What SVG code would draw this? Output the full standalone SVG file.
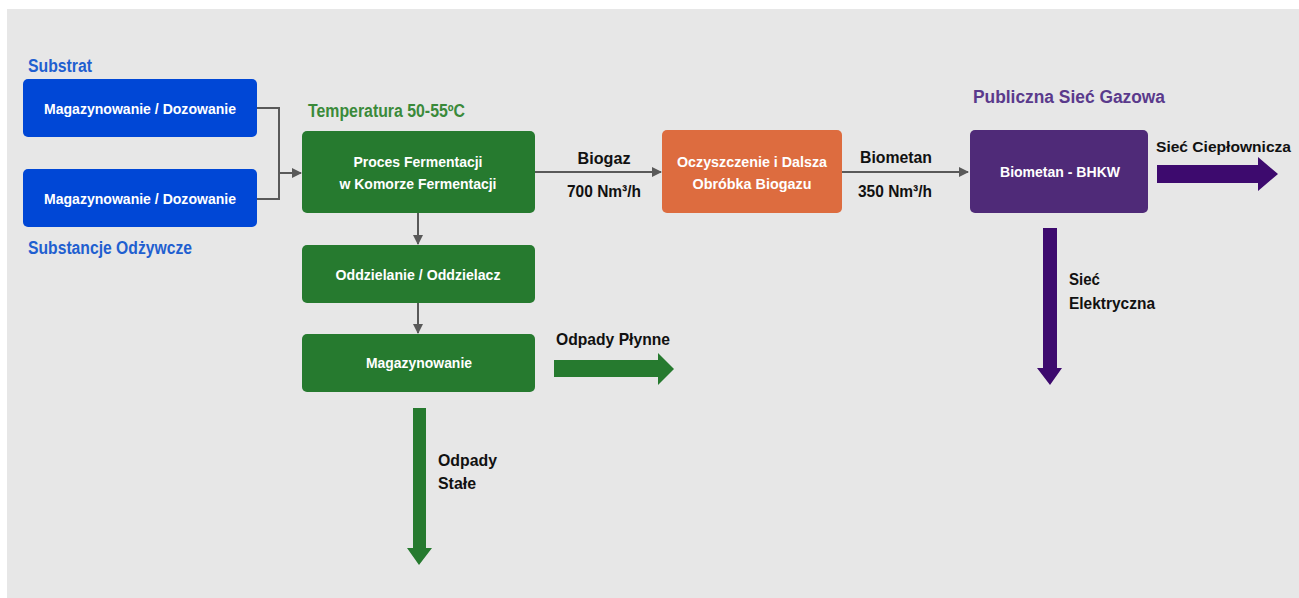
<svg xmlns="http://www.w3.org/2000/svg" width="1299" height="598" viewBox="0 0 1299 598">
<defs>
<style>
text{font-family:"Liberation Sans",Arial,sans-serif;font-weight:bold}
.w{fill:#fff;font-size:15px;text-anchor:middle}
.k{fill:#111;font-size:17px}
.kc{fill:#111;font-size:17px;text-anchor:middle}
.t{font-size:18px}
.conn{fill:none;stroke:#595959;stroke-width:2}
</style>
<marker id="ah" viewBox="0 0 10 10" refX="9" refY="5" markerWidth="5" markerHeight="5" orient="auto" markerUnits="strokeWidth">
<path d="M0,0 L10,5 L0,10 z" fill="#595959"/>
</marker>
</defs>
<rect x="0" y="0" width="1299" height="598" fill="#fff"/>
<rect x="7" y="9" width="1292" height="589" fill="#e7e7e7"/>

<g id="connectors">
<path class="conn" d="M257,108 H279 V199 H257"/>
<path class="conn" d="M279,173 H301" marker-end="url(#ah)"/>
<path class="conn" d="M535,172 H661" marker-end="url(#ah)"/>
<path class="conn" d="M842,172 H968" marker-end="url(#ah)"/>
<path class="conn" d="M418,213 V244" marker-end="url(#ah)"/>
<path class="conn" d="M418,303 V333" marker-end="url(#ah)"/>
<polygon fill="#3d0a6e" points="1157,165 1258,165 1258,157 1278,174 1258,191 1258,183 1157,183"/>
<polygon fill="#3d0a6e" points="1043,228 1057,228 1057,368 1062,368 1050,385 1037,368 1043,368"/>
<polygon fill="#267a2f" points="554,360 658,360 658,353 674,369 658,385 658,377 554,377"/>
<polygon fill="#267a2f" points="413,408 426,408 426,548 432,548 419,565 407,548 413,548"/>
</g>

<g id="label-substrat"><text class="t" x="28" y="72" fill="#1f5fd0" textLength="64" lengthAdjust="spacingAndGlyphs">Substrat</text></g>
<g id="label-substancje"><text class="t" x="28" y="254" fill="#1f5fd0" textLength="164" lengthAdjust="spacingAndGlyphs">Substancje Odżywcze</text></g>

<g id="node-dozowanie1">
<rect x="23" y="79" width="234" height="58" rx="5" fill="#0047d6"/>
<text class="w" x="140" y="114" textLength="192" lengthAdjust="spacingAndGlyphs">Magazynowanie / Dozowanie</text>
</g>
<g id="node-dozowanie2">
<rect x="23" y="169" width="234" height="58" rx="5" fill="#0047d6"/>
<text class="w" x="140" y="204" textLength="192" lengthAdjust="spacingAndGlyphs">Magazynowanie / Dozowanie</text>
</g>

<g id="label-temperatura"><text class="t" x="308" y="117" fill="#3a8a3a" textLength="157" lengthAdjust="spacingAndGlyphs">Temperatura 50-55ºC</text></g>

<g id="node-fermentacja">
<rect x="302" y="131" width="233" height="82" rx="5" fill="#267a2f"/>
<text class="w" x="418" y="167" textLength="129" lengthAdjust="spacingAndGlyphs">Proces Fermentacji</text>
<text class="w" x="418" y="189" textLength="157" lengthAdjust="spacingAndGlyphs">w Komorze Fermentacji</text>
</g>

<g id="label-biogaz">
<text class="kc" x="604" y="164" textLength="53" lengthAdjust="spacingAndGlyphs">Biogaz</text>
<text class="kc" x="604" y="197" textLength="74" lengthAdjust="spacingAndGlyphs">700 Nm³/h</text>
</g>

<g id="node-oczyszczenie">
<rect x="662" y="130" width="180" height="83" rx="5" fill="#dd6c3f"/>
<text class="w" x="752" y="167" textLength="150" lengthAdjust="spacingAndGlyphs">Oczyszczenie i Dalsza</text>
<text class="w" x="752" y="189" textLength="119" lengthAdjust="spacingAndGlyphs">Obróbka Biogazu</text>
</g>

<g id="label-biometan">
<text class="kc" x="896" y="163" textLength="72" lengthAdjust="spacingAndGlyphs">Biometan</text>
<text class="kc" x="895" y="197" textLength="74" lengthAdjust="spacingAndGlyphs">350 Nm³/h</text>
</g>

<g id="label-publiczna"><text class="t" x="973" y="103" fill="#5a3a8c" textLength="192" lengthAdjust="spacingAndGlyphs">Publiczna Sieć Gazowa</text></g>

<g id="node-bhkw">
<rect x="970" y="130" width="178" height="83" rx="5" fill="#4f2a78"/>
<text class="w" x="1060" y="177" textLength="120" lengthAdjust="spacingAndGlyphs">Biometan - BHKW</text>
</g>

<g id="label-cieplownicza"><text class="k" x="1156" y="152" font-size="15.5" style="font-size:15.5px" textLength="135" lengthAdjust="spacingAndGlyphs">Sieć Ciepłownicza</text></g>
<g id="label-elektryczna">
<text class="k" x="1069" y="285" textLength="31" lengthAdjust="spacingAndGlyphs">Sieć</text>
<text class="k" x="1069" y="309" textLength="86" lengthAdjust="spacingAndGlyphs">Elektryczna</text>
</g>

<g id="node-oddzielanie">
<rect x="302" y="245" width="233" height="58" rx="5" fill="#267a2f"/>
<text class="w" x="418" y="280" textLength="165" lengthAdjust="spacingAndGlyphs">Oddzielanie / Oddzielacz</text>
</g>

<g id="node-magazynowanie">
<rect x="302" y="334" width="233" height="58" rx="5" fill="#267a2f"/>
<text class="w" x="419" y="368" textLength="106" lengthAdjust="spacingAndGlyphs">Magazynowanie</text>
</g>

<g id="label-plynne"><text class="k" x="556" y="345" textLength="114" lengthAdjust="spacingAndGlyphs">Odpady Płynne</text></g>
<g id="label-stale">
<text class="k" x="438" y="466" textLength="59" lengthAdjust="spacingAndGlyphs">Odpady</text>
<text class="k" x="438" y="489" textLength="38" lengthAdjust="spacingAndGlyphs">Stałe</text>
</g>
</svg>
